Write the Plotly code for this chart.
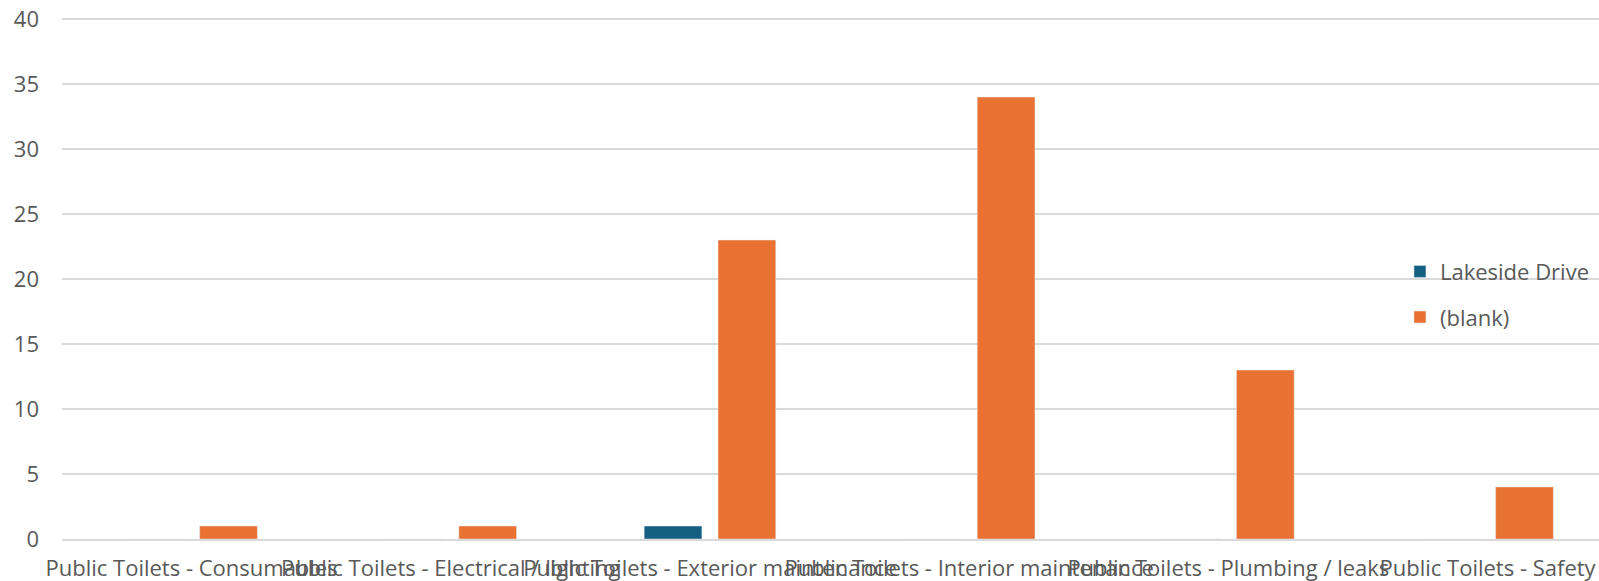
import plotly.graph_objects as go

categories = [
    "Public Toilets - Consumables",
    "Public Toilets - Electrical / lighting",
    "Public Toilets - Exterior maintenance",
    "Public Toilets - Interior maintenance",
    "Public Toilets - Plumbing / leaks",
    "Public Toilets - Safety",
]
lakeside_drive = [0, 0, 1, 0, 0, 0]
blank = [1, 1, 23, 34, 13, 4]
y_ticks = [0, 5, 10, 15, 20, 25, 30, 35, 40]

FONT = "Open Sans"
GREY = "#595959"
FS = 22

fig = go.Figure()
fig.add_trace(go.Bar(x=categories, y=lakeside_drive, name="Lakeside Drive",
                     marker_color="#156082", legendgroup="a"))
fig.add_trace(go.Bar(x=categories, y=blank, name="(blank)",
                     marker_color="#E97132", legendgroup="b"))

fig.update_layout(
    width=1599, height=581,
    margin=dict(l=62, r=0, t=18, b=42, autoexpand=False),
    paper_bgcolor="white", plot_bgcolor="white",
    barmode="group", bargap=0.43, bargroupgap=0.218,
    font=dict(family=FONT, size=FS, color=GREY),
    legend=dict(x=0.8705, y=0.469, xanchor="left", yanchor="middle",
                font=dict(family=FONT, size=FS, color=GREY),
                tracegroupgap=14, traceorder="grouped",
                bgcolor="rgba(0,0,0,0)"),
    showlegend=True,
)
fig.update_xaxes(
    type="category", range=[-0.5, 5.43], showgrid=False,
    showline=True, linecolor="#D9D9D9", linewidth=1.5,
    ticks="", tickfont=dict(family=FONT, size=FS, color=GREY),
    ticklabelstandoff=9, tickangle=0, fixedrange=True,
    ticklabeloverflow="allow", automargin=False,
)
fig.update_yaxes(
    range=[0, 40.08], tickvals=y_ticks, showgrid=True,
    gridcolor="#D9D9D9", gridwidth=1.5, zeroline=False,
    showline=False, ticks="", ticklabelstandoff=22,
    tickfont=dict(family=FONT, size=FS, color=GREY), fixedrange=True,
    ticklabeloverflow="allow", automargin=False,
)

fig.write_html(
    "out.html",
    config={"displayModeBar": False},
    post_script="document.body.style.margin='0';document.body.style.overflow='hidden';",
)
